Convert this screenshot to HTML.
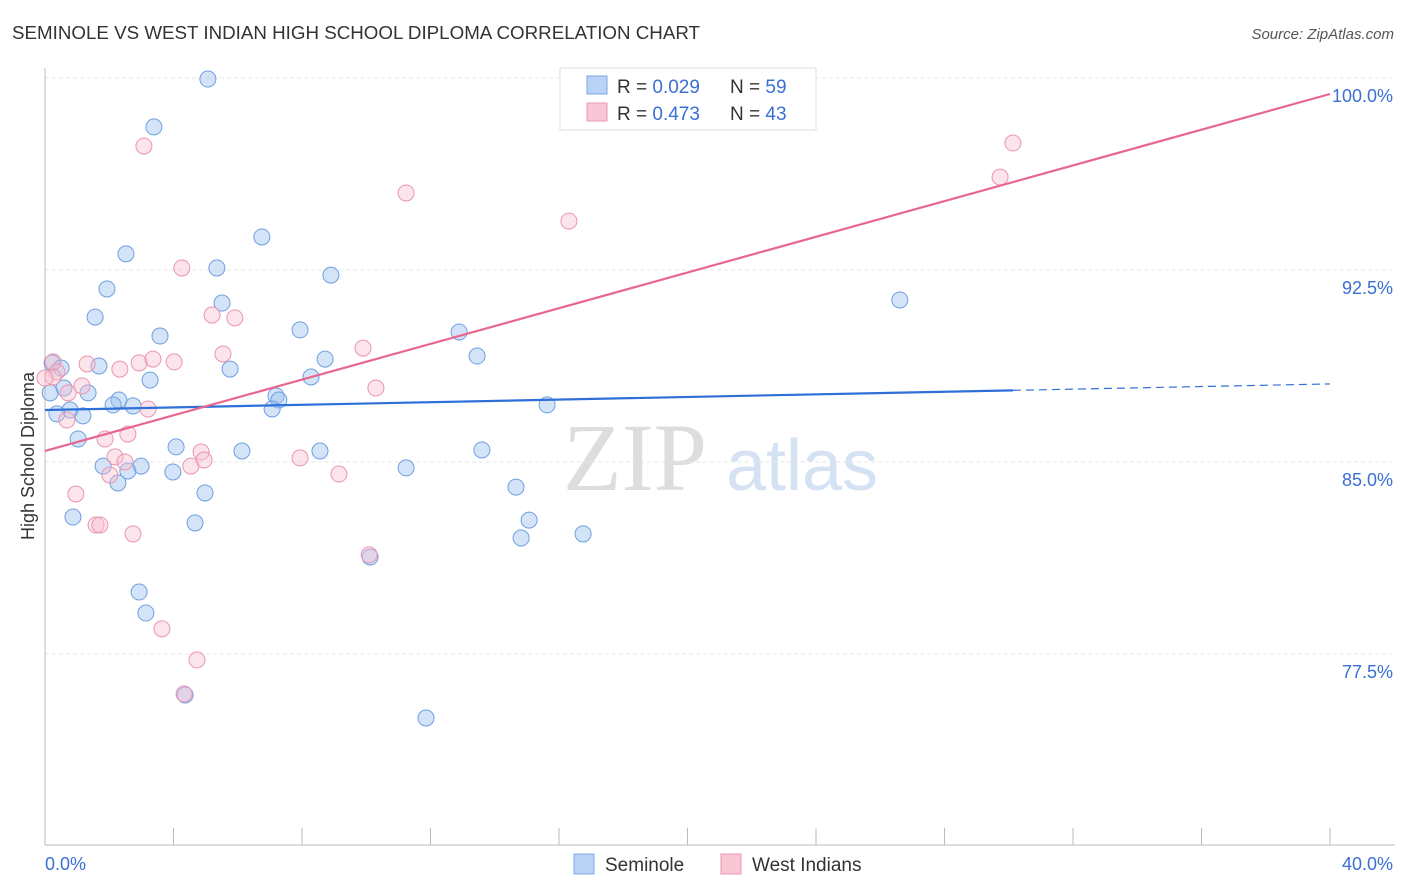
<!DOCTYPE html>
<html><head><meta charset="utf-8"><style>
body{margin:0;background:#fff;font-family:"Liberation Sans",sans-serif;}
svg{display:block}
</style></head><body>
<svg id="chart" width="1406" height="892">
<text x="12" y="39" font-size="18" fill="#333" textLength="688" lengthAdjust="spacingAndGlyphs">SEMINOLE VS WEST INDIAN HIGH SCHOOL DIPLOMA CORRELATION CHART</text>
<text x="1394" y="39" font-size="15" fill="#555" font-style="italic" text-anchor="end">Source: ZipAtlas.com</text>
<text x="34" y="456" font-size="18" fill="#333" text-anchor="middle" transform="rotate(-90 34 456)">High School Diploma</text>
<g>
<text x="635" y="490" font-size="96" fill="#ddd" font-family="Liberation Serif,serif" text-anchor="middle">ZIP</text>
<text x="802" y="490" font-size="72" fill="#d4e2f4" text-anchor="middle">atlas</text>
</g>
<g id="grid"></g><g id="axes"></g><g id="points"></g><g id="trends"></g>
<g>
<rect x="560" y="68" width="256" height="62" fill="#fff" stroke="#ddd"/>
<rect x="587" y="76" width="20" height="18" fill="#b8d3f5" stroke="#7aa7e0"/>
<rect x="587" y="103" width="20" height="18" fill="#f9c6d6" stroke="#ec9ab4"/>
<text x="617" y="93" font-size="19" fill="#333">R = <tspan fill="#3a6fd6">0.029</tspan></text>
<text x="730" y="93" font-size="19" fill="#333">N = <tspan fill="#3a6fd6">59</tspan></text>
<text x="617" y="120" font-size="19" fill="#333">R = <tspan fill="#3a6fd6">0.473</tspan></text>
<text x="730" y="120" font-size="19" fill="#333">N = <tspan fill="#3a6fd6">43</tspan></text>
</g>
<g>
<rect x="574" y="854" width="20" height="20" fill="#b8d3f5" stroke="#7aa7e0"/>
<text x="605" y="871" font-size="19" fill="#333">Seminole</text>
<rect x="721" y="854" width="20" height="20" fill="#f9c6d6" stroke="#ec9ab4"/>
<text x="752" y="871" font-size="19" fill="#333">West Indians</text>
</g>
</svg>
<script>
const yTicks=[77.5,85.0,92.5,100.0];
const xTickLabels=["0.0%","40.0%"];
const semX=[5.07,3.39,6.75,2.52,5.35,8.90,1.93,5.51,1.56,3.58,7.94,12.89,13.45,0.22,0.50,1.68,8.72,5.76,3.27,8.28,0.59,1.34,0.16,2.30,2.12,2.74,7.19,7.28,7.07,15.63,0.78,0.37,1.18,1.03,4.08,6.13,8.56,13.60,1.81,2.99,2.58,3.98,11.24,2.27,4.98,14.66,0.87,4.67,15.07,14.82,16.75,2.93,3.14,4.36,10.12,11.86,26.61,19.98];
const semY=[99.96,98.09,93.79,93.13,92.58,92.30,91.76,91.21,90.66,89.92,90.16,90.08,89.14,88.87,88.67,88.75,89.02,88.63,88.20,88.32,87.89,87.70,87.70,87.42,87.23,87.19,87.58,87.42,87.07,87.23,87.03,86.88,86.80,85.90,85.59,85.43,85.43,85.47,84.84,84.84,84.65,84.61,84.77,84.18,83.79,84.02,82.85,82.62,82.73,82.03,82.19,79.92,79.10,75.90,81.29,75.0,91.33,99.96];
const wiX=[3.08,30.13,29.73,11.24,16.31,4.26,5.20,5.91,5.54,9.90,0.25,1.31,2.93,3.36,4.02,2.33,0.37,0.25,1.15,0.72,10.30,3.21,0.68,2.58,1.87,4.86,2.18,2.49,4.95,4.54,7.94,9.15,2.02,0.96,1.59,1.71,2.74,10.09,3.64,4.73,4.33,0];
const wiY=[97.34,97.46,96.13,95.51,94.41,92.58,90.74,90.63,89.22,89.45,88.91,88.83,88.87,89.02,88.91,88.63,88.52,88.32,87.97,87.70,87.89,87.07,86.64,86.09,85.90,85.39,85.20,85.0,85.08,84.84,85.16,84.53,84.49,83.75,82.54,82.54,82.19,81.37,78.48,77.27,75.94,88.28];
const semTrend=[87.03,88.05];
const wiTrend=[85.43,99.375];
const X=v=>45+v/40*1285, Y=v=>78+(100-v)*25.6;
const NS="http://www.w3.org/2000/svg";
function mk(parent,tag,attrs){const e=document.createElementNS(NS,tag);for(const k in attrs)e.setAttribute(k,attrs[k]);document.getElementById(parent).appendChild(e);return e;}
yTicks.forEach(t=>{
 const l=mk('grid','line',{x1:45,x2:1395,y1:Y(t),y2:Y(t),stroke:'#e6e6e6','stroke-dasharray':'4 3'});
 
 
 const tx=mk('grid','text',{x:1393,y:Y(t)+24,'font-size':18,fill:'#3a6fd6','text-anchor':'end'});
 tx.textContent=t.toFixed(1)+'%';
 
 
});
const ax=mk('axes','line',{x1:45,x2:45,y1:68,y2:845,stroke:'#bbb'});


const bx=mk('axes','line',{x1:45,x2:1395,y1:845,y2:845,stroke:'#bbb'});


for(let i=0;i<=10;i++){const t=mk('axes','line',{x1:X(i*4),x2:X(i*4),y1:828,y2:845,stroke:'#bbb'});
 
 }
const xl0=mk('axes','text',{x:45,y:870,'font-size':18,fill:'#3a6fd6'});xl0.textContent=xTickLabels[0];


const xl1=mk('axes','text',{x:1393,y:870,'font-size':18,fill:'#3a6fd6','text-anchor':'end'});xl1.textContent=xTickLabels[1];


semX.forEach((v,i)=>{const c=mk('points','circle',{cx:X(v),cy:Y(semY[i]),r:8,fill:'rgba(160,196,240,0.45)',stroke:'#6f9fe0','stroke-width':1});
 
 });
wiX.forEach((v,i)=>{const c=mk('points','circle',{cx:X(v),cy:Y(wiY[i]),r:8,fill:'rgba(248,188,206,0.4)',stroke:'#eb95b0','stroke-width':1});
 
 });
const sy=x=>semTrend[0]+(semTrend[1]-semTrend[0])*x/40;
const t1=mk('trends','line',{x1:X(0),y1:Y(sy(0)),x2:X(30.13),y2:Y(sy(30.13)),stroke:'#2e6fd8','stroke-width':2.2});


const t2=mk('trends','line',{x1:X(30.13),y1:Y(sy(30.13)),x2:X(40),y2:Y(sy(40)),stroke:'#2e6fd8','stroke-width':1.2,'stroke-dasharray':'8 5'});


const t3=mk('trends','line',{x1:X(0),y1:Y(wiTrend[0]),x2:X(40),y2:Y(wiTrend[1]),stroke:'#e8668f','stroke-width':2.2});


</script>
</body></html>
